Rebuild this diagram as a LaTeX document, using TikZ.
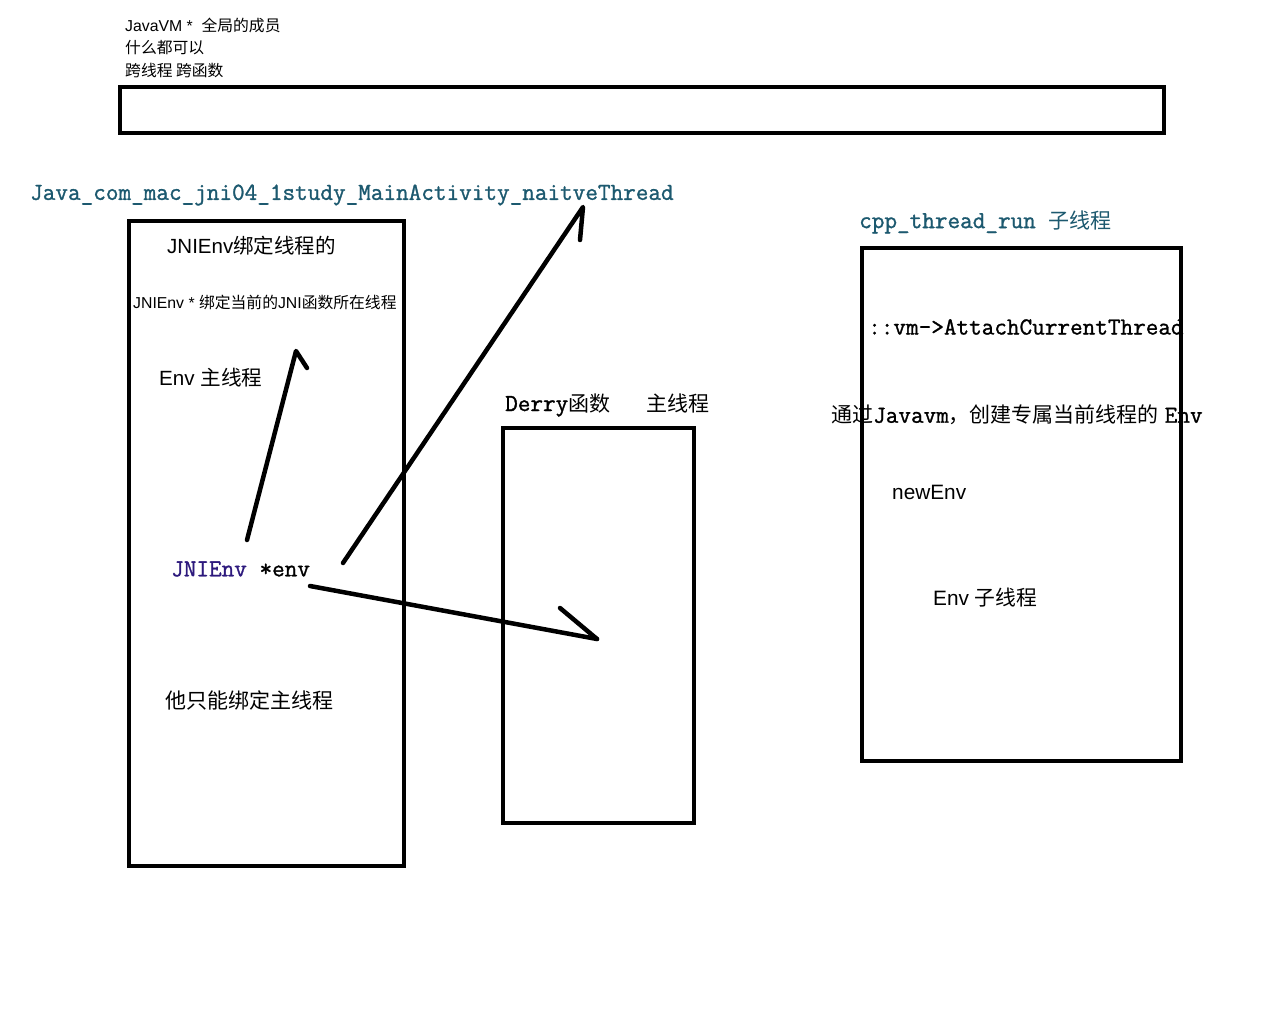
\documentclass[tikz,border=0pt]{standalone}
\usepackage{fontspec}
\setmainfont{Liberation Sans}
\newfontfamily\zhfont{Noto Sans CJK SC}
\newfontfamily\codefont[FakeBold=1.2]{Latin Modern Mono}
\newcommand{\zh}[1]{{\zhfont #1}}
\newcommand{\fs}[1]{\fontsize{#1}{#1}\selectfont}
\definecolor{tealtxt}{RGB}{28,89,111}
\definecolor{purptxt}{RGB}{45,25,125}
\begin{document}
\begin{tikzpicture}[x=1pt,y=-1pt,
  txt/.style={inner sep=0pt, anchor=west},
  box/.style={draw, line width=3.3pt, inner sep=0pt},
  pen/.style={line width=4.5pt, line cap=round, line join=round}]
\fill[white] (0,0) rectangle (1280,1024);
\useasboundingbox (0,0) rectangle (1280,1024);
% top text
\node[txt] (t1) at (125,25) {\fs{15.8}JavaVM *\ \ \zh{全局的成员}};
\node[txt] (t2) at (125,48) {\fs{15.8}\zh{什么都可以}};
\node[txt] (t3) at (125,71) {\fs{15.8}\zh{跨线程 跨函数}};
% boxes
\node[box, minimum width=1044pt, minimum height=46pt] (topbox) at (642,110) {};
\node[box, minimum width=275pt, minimum height=645pt] (leftbox) at (266.5,543.5) {};
\node[box, minimum width=191pt, minimum height=395pt] (midbox) at (598.5,625.5) {};
\node[box, minimum width=319pt, minimum height=513pt] (rightbox) at (1021.5,504.5) {};
% titles
\node[txt, text=tealtxt] (jfun) at (30,195) {\fs{24.5}\codefont Java\_com\_mac\_jni04\_1study\_MainActivity\_naitveThread};
\node[txt, text=tealtxt] (cfun) at (859,222) {\fs{24.5}\codefont cpp\_thread\_run \fs{21}\zh{子线程}};
\node[txt] (dfun) at (505,405) {\fs{24.5}\codefont Derry\fs{21}\zh{函数}\hspace{36pt}\zh{主线程}};
% left box text
\node[txt] (l1) at (167,246) {\fs{20.5}JNIEnv\zh{绑定线程的}};
\node[txt] (l2) at (133,302) {\fs{15.8}JNIEnv * \zh{绑定当前的}JNI\zh{函数所在线程}};
\node[txt] (l3) at (159,378) {\fs{20.6}Env \zh{主线程}};
\node[txt] (l4) at (171,569) {\fs{24.5}\codefont\textcolor{purptxt}{JNIEnv} *env};
\node[txt] (l5) at (165,700) {\fs{21}\zh{他只能绑定主线程}};
% right box text
\node[txt] (r1) at (868,327) {\fs{24.5}\codefont ::vm->AttachCurrentThread};
\node[txt] (r2) at (831,415) {\fs{21}\zh{通过}{\fs{24.5}\codefont Javavm}\zh{，创建专属当前线程的} {\fs{24.5}\codefont Env}};
\node[txt] (r3) at (892,492) {\fs{20.8}newEnv};
\node[txt] (r4) at (933,598) {\fs{20.8}Env \zh{子线程}};
% hand drawn arrows
\coordinate (a1s) at (247,540);
\coordinate (a1t) at (296,351);
\coordinate (a1h) at (307,368);
\coordinate (a2s) at (343,563);
\coordinate (a2t) at (583,207);
\coordinate (a2h) at (580,240);
\coordinate (a3s) at (310,586);
\coordinate (a3t) at (597,639);
\coordinate (a3h) at (560,608);
\draw[pen] (a1s) -- (a1t) -- (a1h);
\draw[pen] (a2s) -- (a2t) -- (a2h);
\draw[pen] (a3s) -- (a3t);
\draw[pen] (a3h) -- (a3t);
\end{tikzpicture}
\end{document}
